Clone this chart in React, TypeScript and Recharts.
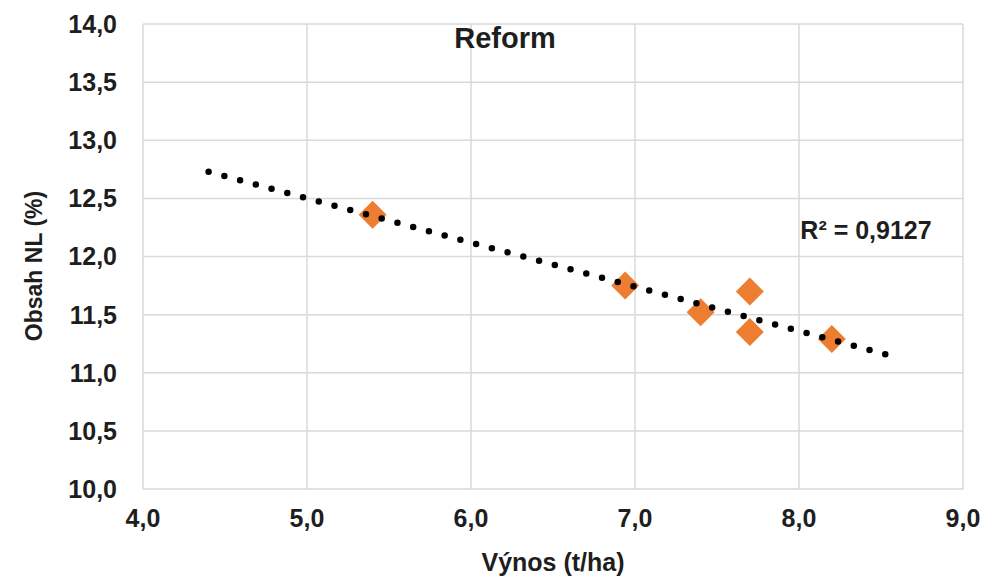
import { CartesianGrid, Scatter, ScatterChart, XAxis, YAxis } from 'recharts';

// measured points (yield t/ha vs. NL content %)
const vynos = [5.4, 6.94, 7.4, 7.7, 7.7, 8.2];
const obsahNL = [12.36, 11.75, 11.52, 11.7, 11.35, 11.29];

// linear trend endpoints as drawn in the source chart
const trendX = [4.4, 8.6];
const trendY = [12.73, 11.13];

const xTicks = [4, 5, 6, 7, 8, 9];
const yTicks = [10, 10.5, 11, 11.5, 12, 12.5, 13, 13.5, 14];

const title = 'Reform';
const r2Label = 'R² = 0,9127';
const xTitle = 'Výnos (t/ha)';
const yTitle = 'Obsah NL (%)';

const points = vynos.map((x, i) => ({ x, y: obsahNL[i] }));
const trend = trendX.map((x, i) => ({ x, y: trendY[i] }));

const FONT = '"Liberation Sans", Arial, sans-serif';
const fmt = (v: number) => v.toFixed(1).replace('.', ',');

function Diamond(props: any) {
  const { cx, cy } = props;
  const r = 14;
  return (
    <path
      d={`M${cx},${cy - r} L${cx + r},${cy} L${cx},${cy + r} L${cx - r},${cy} Z`}
      fill="#ed7d31"
    />
  );
}

const tickStyle = { fontSize: 25, fontWeight: 700, fill: '#1e1e1e', fontFamily: FONT };

export default function App() {
  return (
    <div
      style={{
        position: 'absolute',
        left: 0,
        top: 0,
        width: 1004,
        height: 579,
        background: '#fff',
        fontFamily: FONT,
      }}
    >
      <ScatterChart
        width={1004}
        height={579}
        margin={{ top: 24, right: 41, bottom: 0, left: 0 }}
      >
        <CartesianGrid stroke="#d9d9d9" strokeWidth={1.5} />
        <XAxis
          type="number"
          dataKey="x"
          domain={[4, 9]}
          ticks={xTicks}
          tickFormatter={fmt}
          axisLine={false}
          tickLine={false}
          tickSize={0}
          tickMargin={20}
          height={90}
          tick={tickStyle}
          allowDataOverflow
        />
        <YAxis
          type="number"
          dataKey="y"
          domain={[10, 14]}
          ticks={yTicks}
          tickFormatter={fmt}
          axisLine={false}
          tickLine={false}
          tickSize={0}
          tickMargin={26}
          width={143}
          tick={tickStyle}
          allowDataOverflow
        />
        <Scatter
          data={points}
          shape={Diamond}
          isAnimationActive={false}
        />
        <Scatter
          data={trend}
          line={{
            stroke: '#000',
            strokeWidth: 6.5,
            strokeDasharray: '0 16.3',
            strokeLinecap: 'round',
          }}
          shape={() => <g />}
          isAnimationActive={false}
        />
      </ScatterChart>

      <div
        style={{
          position: 'absolute',
          left: 505,
          top: 38,
          transform: 'translate(-50%, -50%)',
          fontSize: 29,
          fontWeight: 700,
          color: '#1e1e1e',
          whiteSpace: 'nowrap',
        }}
      >
        {title}
      </div>
      <div
        style={{
          position: 'absolute',
          left: 866,
          top: 230,
          transform: 'translate(-50%, -50%)',
          fontSize: 25,
          fontWeight: 700,
          color: '#1e1e1e',
          whiteSpace: 'nowrap',
        }}
      >
        {r2Label}
      </div>
      <div
        style={{
          position: 'absolute',
          left: 553,
          top: 562,
          transform: 'translate(-50%, -50%)',
          fontSize: 25,
          fontWeight: 700,
          color: '#1e1e1e',
          whiteSpace: 'nowrap',
        }}
      >
        {xTitle}
      </div>
      <div
        style={{
          position: 'absolute',
          left: 34,
          top: 266,
          transform: 'translate(-50%, -50%) rotate(-90deg)',
          fontSize: 23,
          fontWeight: 700,
          color: '#1e1e1e',
          whiteSpace: 'nowrap',
        }}
      >
        {yTitle}
      </div>
    </div>
  );
}
